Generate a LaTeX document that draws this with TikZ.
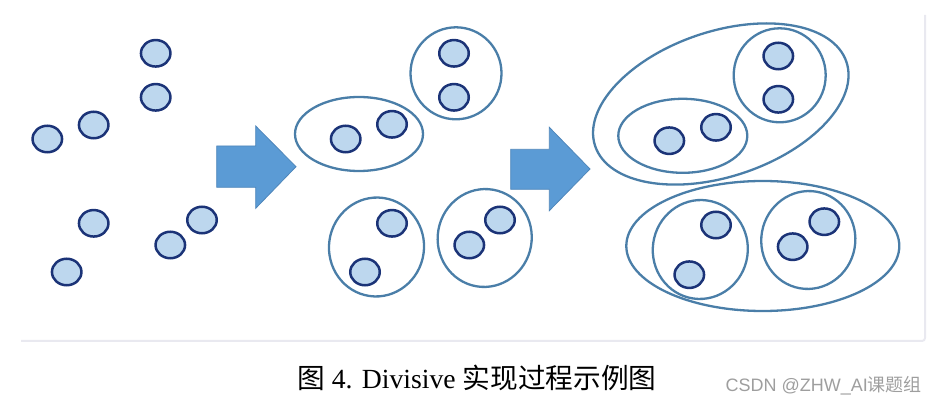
\documentclass[tikz,border=0pt]{standalone}
\usepackage{fontspec}
\setmainfont{Liberation Serif}
\newfontfamily\cjk{Noto Sans CJK SC}
\newfontfamily\wmfont{Liberation Sans}
\newfontfamily\wmcjk{Noto Sans CJK SC}
\usetikzlibrary{shapes.geometric}
\definecolor{dotfill}{HTML}{BDD7EE}
\definecolor{dotline}{HTML}{1B3377}
\definecolor{ringline}{HTML}{4A7EA8}
\definecolor{arrowfill}{HTML}{5B9BD5}
\definecolor{arrowline}{HTML}{4F86BA}
\definecolor{framecol}{HTML}{E9E9F0}
\tikzset{
  pt/.style={ellipse, draw=dotline, fill=dotfill, line width=2.5pt, inner sep=0pt, minimum width=29.5pt, minimum height=26.5pt},
  ring/.style={ellipse, draw=ringline, line width=2.3pt, inner sep=0pt},
  bigarrow/.style={fill=arrowfill, draw=arrowline, line width=0.8pt, line join=miter},
  framestyle/.style={draw=framecol, line width=2pt}
}
\begin{document}
\begin{tikzpicture}[x=1pt,y=-1pt]
\useasboundingbox (0,0) rectangle (938,403);
% faint frame
\draw[framestyle, rounded corners=3pt] (21,341) -- (925,341) -- (925,15);
% stage 1 points
\node[pt] (a1) at (155.7,53.3) {};
\node[pt] (a2) at (155.7,97.3) {};
\node[pt] (a3) at (93.7,125) {};
\node[pt] (a4) at (47.3,139) {};
\node[pt] (a5) at (93.7,223.3) {};
\node[pt] (a6) at (66.7,272) {};
\node[pt] (a7) at (202,220) {};
\node[pt] (a8) at (170.3,245) {};
% arrow 1
\draw[bigarrow] (216.7,146) -- (255.7,146) -- (255.7,126) -- (296,166.7) -- (255.7,208.3) -- (255.7,187.3) -- (216.7,187.3) -- cycle;
% stage 2
\node[ring, minimum width=128pt, minimum height=74pt] (bA) at (359,134) {};
\node[pt] (b1) at (345.7,139) {};
\node[pt] (b2) at (392,124.3) {};
\node[ring, minimum width=91pt, minimum height=92pt] (bB) at (456,73.3) {};
\node[pt] (b3) at (454,53.3) {};
\node[pt] (b4) at (454,97.3) {};
\node[ring, minimum width=95pt, minimum height=99pt, rotate=-8] (bC) at (376.5,247) {};
\node[pt] (b5) at (392,223.3) {};
\node[pt] (b6) at (365,272) {};
\node[ring, minimum width=94pt, minimum height=98pt, rotate=-10] (bD) at (484.7,238) {};
\node[pt] (b7) at (500,220) {};
\node[pt] (b8) at (469.3,245) {};
% arrow 2
\draw[bigarrow] (510.7,149.3) -- (549.3,149.3) -- (549.3,127.3) -- (590,169) -- (549.3,210.7) -- (549.3,189.3) -- (510.7,189.3) -- cycle;
% stage 3
\node[ring, minimum width=265pt, minimum height=145pt, rotate=18.5] (cTop) at (720.8,104) {};
\node[ring, minimum width=92pt, minimum height=94pt] (cTR) at (779.7,75.3) {};
\node[pt] (c1) at (778.3,56) {};
\node[pt] (c2) at (778.3,99.3) {};
\node[ring, minimum width=129pt, minimum height=74pt] (cML) at (682.8,135.8) {};
\node[pt] (c3) at (669.3,140.7) {};
\node[pt] (c4) at (716,127.3) {};
\node[ring, minimum width=273pt, minimum height=130pt] (cBot) at (762.8,246) {};
\node[ring, minimum width=95pt, minimum height=99pt, rotate=-8] (cBL) at (700.3,249.5) {};
\node[pt] (c5) at (716,225) {};
\node[pt] (c6) at (689.3,274.7) {};
\node[ring, minimum width=94pt, minimum height=98pt, rotate=-10] (cBR) at (808.3,240) {};
\node[pt] (c7) at (824.3,221.7) {};
\node[pt] (c8) at (792.7,246.7) {};
% caption
\node[anchor=base west, inner sep=0pt, font=\fontsize{27.7}{30}\selectfont] (cap) at (297,389) {{\cjk 图} 4. Divisive {\cjk 实现过程示例图}};
\node[anchor=base east, inner sep=0pt, text=black!38, font=\fontsize{18}{20}\selectfont] (wm) at (922,392) {\wmfont CSDN @ZHW\_AI{\wmcjk 课题组}};
\end{tikzpicture}
\end{document}
